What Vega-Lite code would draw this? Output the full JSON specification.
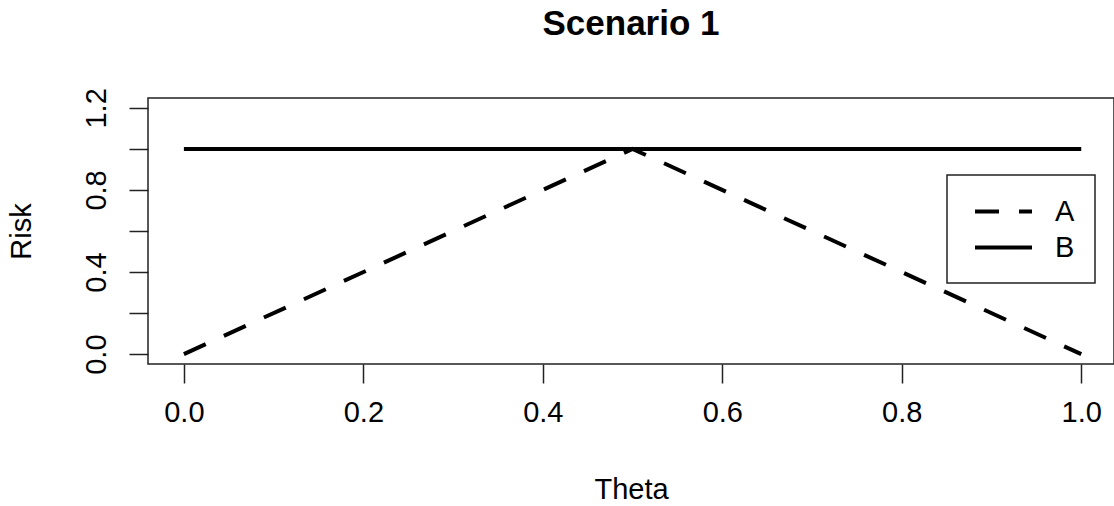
{
  "$schema": "https://vega.github.io/schema/vega-lite/v6.json",
  "width": 966,
  "height": 266,
  "autosize": {"type": "none"},
  "padding": {"left": 148, "top": 98, "right": 0, "bottom": 142},
  "background": "white",
  "config": {
    "font": "Liberation Sans",
    "view": {"stroke": "#222", "strokeWidth": 1.5}
  },
  "title": {
    "text": "Scenario 1",
    "font": "Liberation Sans",
    "fontSize": 35,
    "fontWeight": "bold",
    "color": "#000",
    "anchor": "middle",
    "frame": "group",
    "offset": 46
  },
  "data": {
    "values": [
      {"theta": 0.0, "risk": 0.0, "series": "A"},
      {"theta": 0.5, "risk": 1.0, "series": "A"},
      {"theta": 1.0, "risk": 0.0, "series": "A"},
      {"theta": 0.0, "risk": 1.0, "series": "B"},
      {"theta": 1.0, "risk": 1.0, "series": "B"}
    ]
  },
  "mark": {"type": "line", "color": "#000", "strokeWidth": 4, "strokeCap": "butt", "clip": true},
  "encoding": {
    "x": {
      "field": "theta",
      "type": "quantitative",
      "scale": {"domain": [-0.04, 1.0365], "nice": false, "zero": false},
      "axis": {
        "title": "Theta",
        "values": [0, 0.2, 0.4, 0.6, 0.8, 1.0],
        "format": ".1f",
        "grid": false,
        "domain": false,
        "tickSize": 19,
        "tickWidth": 1.5,
        "tickColor": "#222",
        "labelFontSize": 29,
        "labelColor": "#000",
        "labelPadding": 15,
        "labelFont": "Liberation Sans",
        "titleFont": "Liberation Sans",
        "titleFontSize": 29,
        "titleFontWeight": "normal",
        "titleColor": "#000",
        "titlePadding": 48
      }
    },
    "y": {
      "field": "risk",
      "type": "quantitative",
      "scale": {"domain": [-0.048, 1.248], "nice": false, "zero": false},
      "axis": {
        "title": "Risk",
        "values": [0, 0.2, 0.4, 0.6, 0.8, 1.0, 1.2],
        "format": ".1f",
        "labelExpr": "indexof(['0.0','0.4','0.8','1.2'], datum.label) >= 0 ? datum.label : ''",
        "grid": false,
        "domain": false,
        "tickSize": 19,
        "tickWidth": 1.5,
        "tickColor": "#222",
        "labelAngle": -90,
        "labelAlign": "center",
        "labelBaseline": "bottom",
        "labelFontSize": 29,
        "labelColor": "#000",
        "labelPadding": 18,
        "labelFont": "Liberation Sans",
        "titleFont": "Liberation Sans",
        "titleFontSize": 29,
        "titleFontWeight": "normal",
        "titleColor": "#000",
        "titlePadding": 46
      }
    },
    "strokeDash": {
      "field": "series",
      "type": "nominal",
      "scale": {"domain": ["A", "B"], "range": [[24, 20], [1, 0]]},
      "legend": {
        "title": null,
        "orient": "none",
        "legendX": 799,
        "legendY": 77,
        "strokeColor": "#222",
        "fillColor": "white",
        "padding": 20,
        "symbolType": "M-2,0H2",
        "symbolSize": 812,
        "symbolStrokeWidth": 4,
        "symbolStrokeColor": "#000",
        "symbolFillColor": "transparent",
        "symbolOffset": 20,
        "labelOffset": 35,
        "labelFont": "Liberation Sans",
        "labelFontSize": 29,
        "labelColor": "#000",
        "rowPadding": 4,
        "encode": {
          "legend": {"update": {"strokeWidth": {"value": 1.5}}},
          "symbols": {"update": {"strokeDash": {"signal": "datum.value === 'A' ? [17, 13] : [1, 0]"}}}
        }
      }
    }
  }
}
